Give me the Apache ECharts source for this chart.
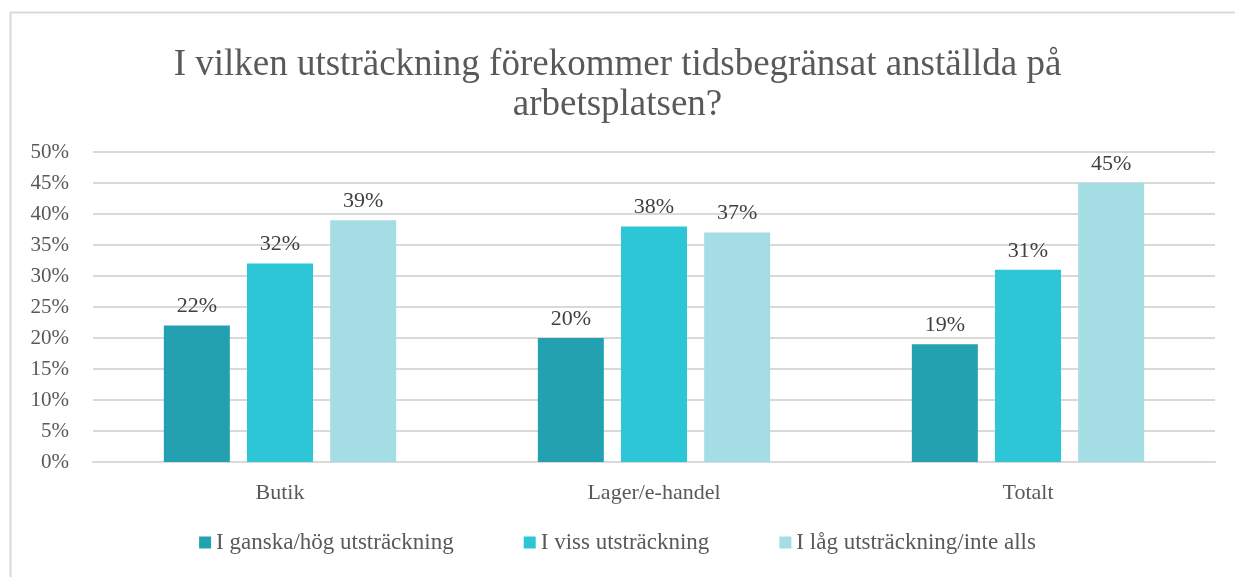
<!DOCTYPE html>
<html><head><meta charset="utf-8">
<script src="https://cdn.jsdelivr.net/npm/echarts@6/dist/echarts.min.js"></script>
<style>html,body{margin:0;padding:0;background:#fff}#c{width:1235px;height:577px}</style>
</head><body><div id="c"></div>
<script>
const categories = ['Butik', 'Lager/e-handel', 'Totalt'];
const seriesNames = ['I ganska/hög utsträckning', 'I viss utsträckning', 'I låg utsträckning/inte alls'];
const hog = [22, 20, 19];
const viss = [32, 38, 31];
const lag = [39, 37, 45];
const colors = ['#23A1B1', '#2DC6D6', '#A5DDE5'];
const FONT = '"Liberation Serif", "DejaVu Serif", serif';

const chart = echarts.init(document.getElementById('c'));
const mk = (name, data, color) => ({
  name, type: 'bar', data, barWidth: 66, barGap: '26%',
  itemStyle: { color },
  label: { show: true, position: 'top', distance: 8, formatter: '{c}%', color: '#404040', fontSize: 22, fontFamily: FONT }
});
chart.setOption({
  animation: false,
  textStyle: { fontFamily: FONT },
  graphic: [{ type: 'rect', left: 8, top: 10, shape: { width: 1260, height: 620 }, style: { fill: 'none', stroke: '#d9d9d9', lineWidth: 2 }, silent: true }],
  title: {
    text: 'I vilken utsträckning förekommer tidsbegränsat anställda på\narbetsplatsen?',
    left: 'center', top: 40,
    textStyle: { fontFamily: FONT, fontSize: 37, fontWeight: 'normal', color: '#595959', lineHeight: 40 }
  },
  legend: {
    bottom: 18, left: 'center', itemWidth: 12, itemHeight: 12, itemGap: 70,
    icon: 'rect',
    textStyle: { fontFamily: FONT, fontSize: 23, color: '#595959' },
    data: seriesNames
  },
  grid: { left: 93, right: 20, top: 152, bottom: 115, containLabel: false },
  xAxis: {
    type: 'category', data: categories,
    axisLine: { lineStyle: { color: '#d9d9d9', width: 2 } },
    axisTick: { show: false },
    axisLabel: { color: '#595959', fontSize: 22, fontFamily: FONT, margin: 20 }
  },
  yAxis: {
    type: 'value', min: 0, max: 50, interval: 5,
    axisLine: { show: false }, axisTick: { show: false },
    splitLine: { lineStyle: { color: '#d9d9d9', width: 2 } },
    axisLabel: { formatter: '{value}%', color: '#595959', fontSize: 21, fontFamily: FONT, margin: 24 }
  },
  series: [mk(seriesNames[0], hog, colors[0]), mk(seriesNames[1], viss, colors[1]), mk(seriesNames[2], lag, colors[2])]
});
</script></body></html>
